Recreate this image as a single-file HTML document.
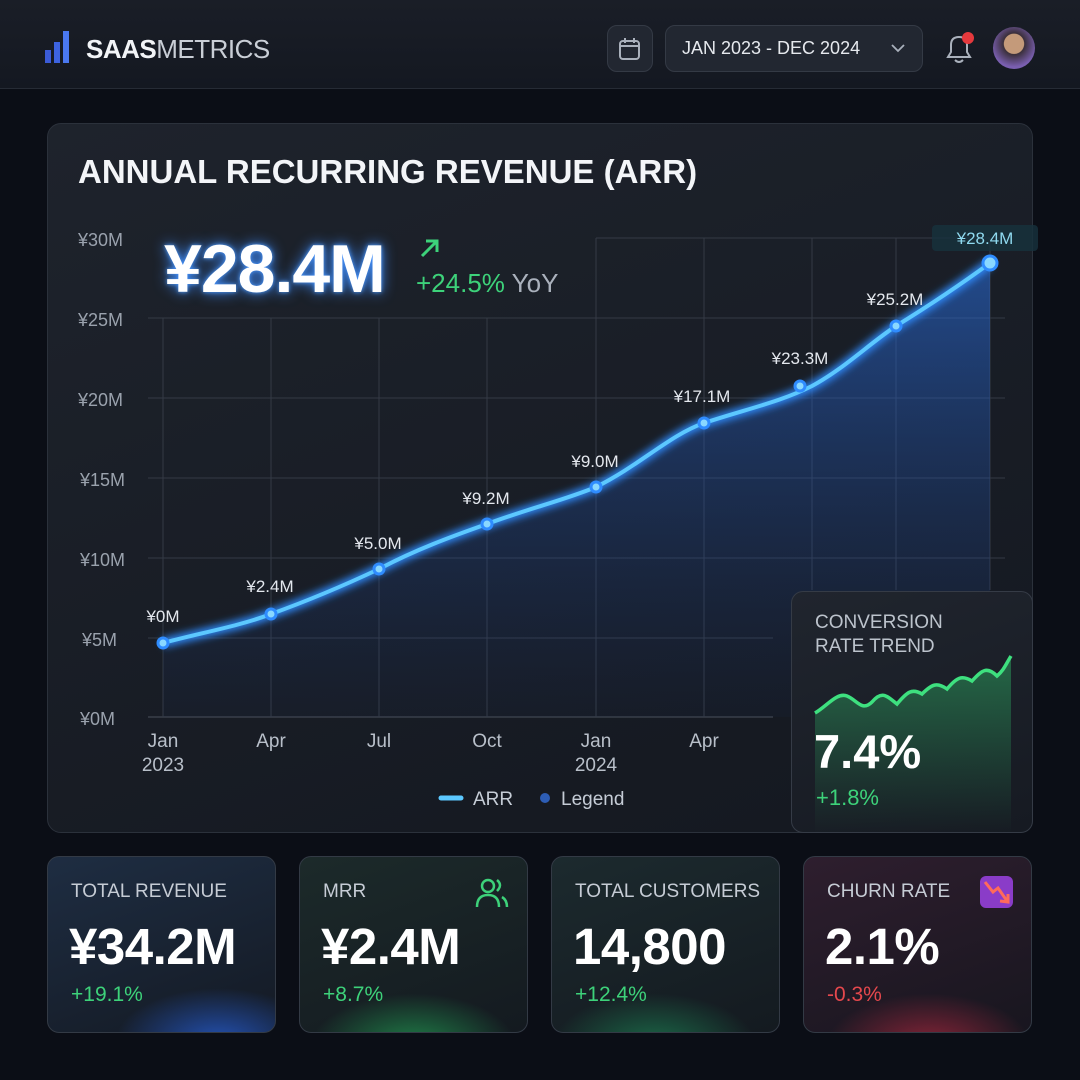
<!DOCTYPE html>
<html><head><meta charset="utf-8"><style>
*{margin:0;padding:0;box-sizing:border-box}
body{width:1080px;height:1080px;background:#0b0e16;font-family:"Liberation Sans","Noto Sans CJK SC",sans-serif;position:relative;overflow:hidden;color:#e8ecf2}
.a{position:absolute}
.hdr{left:0;top:0;width:1080px;height:89px;background:linear-gradient(#1a1e27,#141821);border-bottom:1px solid #262b35}
.panel{left:47px;top:123px;width:986px;height:710px;border-radius:14px;background:linear-gradient(160deg,#1e232c,#141820);border:1px solid #2b313b}
.card{top:856px;width:229px;height:177px;border-radius:12px;border:1px solid #333a45;overflow:hidden}
.card .t{position:absolute;left:23px;top:24px;font-size:19px;color:#c6ccd5}
.card .v{position:absolute;left:21px;top:60px;font-size:51px;font-weight:bold;color:#fff;letter-spacing:-0.5px}
.card .c{position:absolute;left:23px;top:126px;font-size:21px;color:#3dd27a}
.yl{font-size:18px;fill:#9aa2ad}
.xl{font-size:19px;fill:#b8bfc9;text-anchor:middle}
.pl{font-size:17px;fill:#e4e8ee;text-anchor:middle}
</style></head><body>
<div class="a hdr"></div>
<svg class="a" style="left:44px;top:28px" width="30" height="36"><rect x="1" y="22" width="6" height="13" fill="#3b5bd6"/><rect x="10" y="14" width="6" height="21" fill="#3d63e0"/><rect x="19" y="3" width="6" height="32" fill="#4a78f0"/></svg>
<div class="a" style="left:86px;top:34px;font-size:26px;letter-spacing:-0.5px"><b style="color:#f2f4f7">SAAS</b><span style="color:#c9ced6">METRICS</span></div>
<div class="a" style="left:607px;top:25px;width:46px;height:47px;border-radius:10px;background:#222731;border:1px solid #343a45"></div>
<svg class="a" style="left:617px;top:36px" width="26" height="26"><rect x="3" y="5" width="19" height="18" rx="3" fill="none" stroke="#aab1bc" stroke-width="2"/><line x1="3" y1="10" x2="22" y2="10" stroke="#aab1bc" stroke-width="2"/><line x1="8" y1="2" x2="8" y2="7" stroke="#aab1bc" stroke-width="2"/><line x1="17" y1="2" x2="17" y2="7" stroke="#aab1bc" stroke-width="2"/></svg>
<div class="a" style="left:665px;top:25px;width:258px;height:47px;border-radius:10px;background:#222731;border:1px solid #343a45"></div>
<div class="a" style="left:682px;top:38px;font-size:18px;color:#e6e9ee">JAN 2023 - DEC 2024</div>
<svg class="a" style="left:890px;top:42px" width="16" height="12"><polyline points="2,3 8,9 14,3" fill="none" stroke="#aab1bc" stroke-width="1.8"/></svg>
<svg class="a" style="left:942px;top:30px" width="34" height="36"><path d="M6 27 L28 27 L25 22 L25 15 Q25 7 17 7 Q9 7 9 15 L9 22 Z" fill="none" stroke="#aab1bc" stroke-width="2"/><path d="M13 30 Q17 34 21 30" fill="none" stroke="#aab1bc" stroke-width="2"/><circle cx="26" cy="8" r="6" fill="#e5393d"/></svg>
<div class="a" style="left:993px;top:27px;width:42px;height:42px;border-radius:50%;background:radial-gradient(circle at 50% 40%,#c49a7a 0 30%,#3a2f3a 32%,#7a5fb0 70%)"></div>

<div class="a panel"></div>
<div class="a" style="left:78px;top:153px;font-size:33px;font-weight:bold;color:#f3f5f8">ANNUAL RECURRING REVENUE (ARR)</div>

<svg class="a" style="left:0;top:0" width="1080" height="1080">
<defs>
<linearGradient id="ar" x1="0" y1="0" x2="0" y2="1"><stop offset="0" stop-color="#2a6fe0" stop-opacity="0.55"/><stop offset="1" stop-color="#1a3a80" stop-opacity="0.05"/></linearGradient>
<linearGradient id="gr" x1="0" y1="0" x2="0" y2="1"><stop offset="0" stop-color="#2fbf6a" stop-opacity="0.45"/><stop offset="1" stop-color="#2fbf6a" stop-opacity="0"/></linearGradient>
<filter id="gl"><feGaussianBlur stdDeviation="4"/></filter>
</defs>
<g stroke="#343a45" stroke-width="1">
<line x1="596" y1="238" x2="1005" y2="238"/>
<line x1="148" y1="318" x2="1005" y2="318"/><line x1="148" y1="398" x2="1005" y2="398"/><line x1="148" y1="478" x2="1005" y2="478"/><line x1="148" y1="558" x2="1005" y2="558"/><line x1="148" y1="638" x2="773" y2="638"/><line x1="148" y1="717" x2="773" y2="717" stroke="#4a505b"/>
<line x1="163" y1="318" x2="163" y2="717"/><line x1="271" y1="318" x2="271" y2="717"/><line x1="379" y1="318" x2="379" y2="717"/><line x1="487" y1="318" x2="487" y2="717"/><line x1="596" y1="238" x2="596" y2="717"/><line x1="704" y1="238" x2="704" y2="717"/><line x1="812" y1="238" x2="812" y2="590"/><line x1="896" y1="238" x2="896" y2="590"/><line x1="990" y1="238" x2="990" y2="590"/>
</g>
<path d="M163,643 C200,633 240,626 271,614 C310,600 345,585 379,569 C415,550 450,537 487,524 C530,508 565,500 596,487 C640,465 670,435 704,423 C750,408 780,402 812,386 C845,368 870,343 896,326 C930,305 960,285 990,263 L990,717 L163,717 Z" fill="url(#ar)"/>
<path d="M163,643 C200,633 240,626 271,614 C310,600 345,585 379,569 C415,550 450,537 487,524 C530,508 565,500 596,487 C640,465 670,435 704,423 C750,408 780,402 812,386 C845,368 870,343 896,326 C930,305 960,285 990,263" fill="none" stroke="#2f8cff" stroke-width="9" filter="url(#gl)"/>
<path d="M163,643 C200,633 240,626 271,614 C310,600 345,585 379,569 C415,550 450,537 487,524 C530,508 565,500 596,487 C640,465 670,435 704,423 C750,408 780,402 812,386 C845,368 870,343 896,326 C930,305 960,285 990,263" fill="none" stroke="#5cc8ff" stroke-width="4"/>
<g fill="#8ad8ff" stroke="#2f8cff" stroke-width="3">
<circle cx="163" cy="643" r="5"/><circle cx="271" cy="614" r="5"/><circle cx="379" cy="569" r="5"/><circle cx="487" cy="524" r="5"/><circle cx="596" cy="487" r="5"/><circle cx="704" cy="423" r="5"/><circle cx="800" cy="386" r="5"/><circle cx="896" cy="326" r="5"/><circle cx="990" cy="263" r="7"/></g>
<g class="yl"><text x="78" y="246">¥30M</text><text x="78" y="326">¥25M</text><text x="78" y="406">¥20M</text><text x="80" y="486">¥15M</text><text x="80" y="566">¥10M</text><text x="82" y="646">¥5M</text><text x="80" y="725">¥0M</text></g>
<g class="xl"><text x="163" y="747">Jan</text><text x="163" y="771">2023</text><text x="271" y="747">Apr</text><text x="379" y="747">Jul</text><text x="487" y="747">Oct</text><text x="596" y="747">Jan</text><text x="596" y="771">2024</text><text x="704" y="747">Apr</text></g>
<g class="pl"><text x="163" y="622">¥0M</text><text x="270" y="592">¥2.4M</text><text x="378" y="549">¥5.0M</text><text x="486" y="504">¥9.2M</text><text x="595" y="467">¥9.0M</text><text x="702" y="402">¥17.1M</text><text x="800" y="364">¥23.3M</text><text x="895" y="305">¥25.2M</text></g>
<rect x="932" y="225" width="106" height="26" rx="4" fill="#16323d" opacity="0.8"/>
<text x="985" y="244" class="pl" style="fill:#8fd9ef">¥28.4M</text>
<line x1="441" y1="798" x2="461" y2="798" stroke="#5cc8ff" stroke-width="5" stroke-linecap="round"/>
<text x="473" y="805" style="font-size:19px;fill:#c5ccd6">ARR</text>
<circle cx="545" cy="798" r="5" fill="#2d5db5"/>
<text x="561" y="805" style="font-size:19px;fill:#c5ccd6">Legend</text>
</svg>

<div class="a" style="left:164px;top:230px;font-size:68px;font-weight:bold;color:#fff;text-shadow:0 0 14px #3d8cff,0 0 4px #5fa8ff;letter-spacing:-1px">¥28.4M</div>
<svg class="a" style="left:418px;top:236px" width="24" height="24"><line x1="4" y1="20" x2="18" y2="6" stroke="#3dd27a" stroke-width="3"/><polyline points="8,5 19,5 19,16" fill="none" stroke="#3dd27a" stroke-width="3"/></svg>
<div class="a" style="left:416px;top:268px;font-size:26px;color:#3dd27a">+24.5% <span style="color:#aab1bc">YoY</span></div>

<div class="a" style="left:791px;top:591px;width:242px;height:242px;border-radius:12px;background:linear-gradient(160deg,#20252e,#161a22);border:1px solid #353b46;overflow:hidden">
<div style="position:absolute;left:23px;top:19px;font-size:19px;line-height:24px;color:#bcc3cc">CONVERSION<br>RATE TREND</div>
<svg style="position:absolute;left:0;top:0" width="242" height="242"><path d="M23,121 C35,114 45,100 55,104 C65,108 70,120 80,110 C90,98 95,104 105,112 C115,100 120,96 130,102 C140,92 145,90 155,97 C165,85 170,83 180,89 C190,78 195,74 205,84 C212,78 214,72 219,64 L219,242 L23,242 Z" fill="url(#gr)"/><path d="M23,121 C35,114 45,100 55,104 C65,108 70,120 80,110 C90,98 95,104 105,112 C115,100 120,96 130,102 C140,92 145,90 155,97 C165,85 170,83 180,89 C190,78 195,74 205,84 C212,78 214,72 219,64" fill="none" stroke="#3ee07f" stroke-width="3.5"/></svg>
<div style="position:absolute;left:22px;top:132px;font-size:47px;font-weight:bold;color:#fff">7.4%</div>
<div style="position:absolute;left:24px;top:193px;font-size:22px;color:#3dd27a">+1.8%</div>
</div>

<div class="a card" style="left:47px;background:radial-gradient(ellipse 45% 30% at 75% 105%,#2350b0 0,transparent 100%),linear-gradient(160deg,#1e2d42,#141a24)"><div class="t">TOTAL REVENUE</div><div class="v">¥34.2M</div><div class="c">+19.1%</div></div>
<div class="a card" style="left:299px;background:radial-gradient(ellipse 45% 30% at 50% 108%,#1f8048 0,transparent 100%),linear-gradient(160deg,#1c2a2a,#141a20)"><div class="t">MRR</div><div class="v">¥2.4M</div><div class="c">+8.7%</div>
<svg style="position:absolute;left:174px;top:20px" width="36" height="34"><circle cx="14" cy="9" r="6" fill="none" stroke="#3dd27a" stroke-width="2.5"/><path d="M3 30 Q3 18 14 18 Q25 18 25 30" fill="none" stroke="#3dd27a" stroke-width="2.5"/><path d="M23 3 Q29 8 23 14 M28 20 Q33 23 33 30" fill="none" stroke="#3dd27a" stroke-width="2.5"/></svg></div>
<div class="a card" style="left:551px;background:radial-gradient(ellipse 45% 30% at 45% 108%,#1b6a48 0,transparent 100%),linear-gradient(160deg,#1c2a2e,#141a20)"><div class="t">TOTAL CUSTOMERS</div><div class="v">14,800</div><div class="c">+12.4%</div></div>
<div class="a card" style="left:803px;background:radial-gradient(ellipse 45% 30% at 55% 108%,#8a2438 0,transparent 100%),linear-gradient(160deg,#2e1e2e,#18161f)"><div class="t">CHURN RATE</div><div class="v">2.1%</div><div class="c" style="color:#e5484d">-0.3%</div>
<div style="position:absolute;left:176px;top:19px;width:33px;height:32px;border-radius:6px;background:#8a3cc8"></div>
<svg style="position:absolute;left:176px;top:19px" width="33" height="32"><polyline points="5,6 13,16 18,12 27,25" fill="none" stroke="#ff6a5a" stroke-width="3"/><polyline points="20,25 28,26 28,18" fill="none" stroke="#ff6a5a" stroke-width="3"/></svg></div>
</body></html>
